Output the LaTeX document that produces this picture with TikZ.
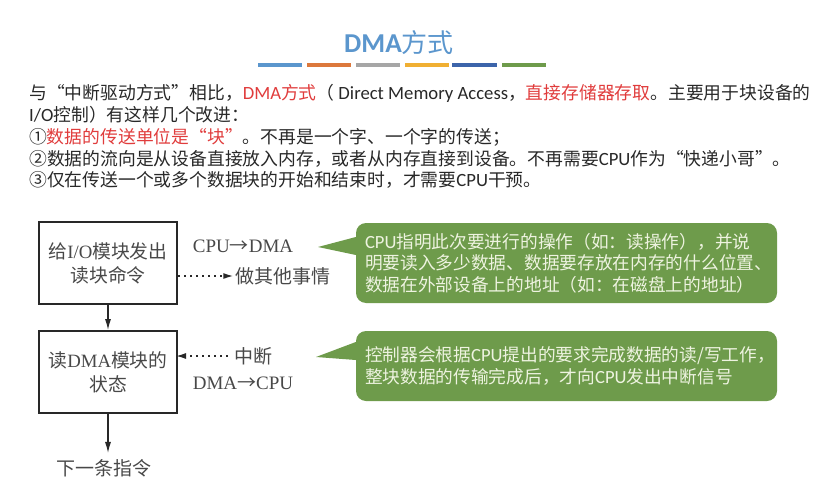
\documentclass[tikz,border=0pt]{standalone}
\usepackage{fontspec}
\usetikzlibrary{arrows.meta}
\setmainfont{Noto Sans CJK SC}
\newfontfamily\lat[Scale=1.05]{Carlito}
\newfontfamily\ser{Liberation Serif}
\newcommand{\en}[1]{{\lat #1}}
\definecolor{dmablue}{RGB}{91,150,205}
\definecolor{dmared}{RGB}{224,60,60}
\definecolor{dmagreen}{RGB}{110,155,75}
\definecolor{dmapale}{RGB}{238,243,224}
\definecolor{dmaorange}{RGB}{220,120,60}
\definecolor{dmagold}{RGB}{240,175,50}
\definecolor{dmanavy}{RGB}{60,100,170}
\definecolor{ink}{RGB}{40,40,40}
\begin{document}
\begin{tikzpicture}[x=1pt, y=-1pt,
    barmark/.style={line width=4pt},
    stepbox/.style={draw=ink, line width=2pt, minimum width=138pt, minimum height=82pt,
              inner sep=0pt, align=center, font=\fontsize{18.8}{24}\selectfont, text=ink!85},
    note/.style={font=\fontsize{19}{22}\selectfont, text=ink!85, inner sep=0pt},
    flow/.style={draw=ink, line width=1.2pt, -{Latex[length=11pt,width=6pt]}},
    dotflow/.style={draw=ink, line width=1.4pt, dash pattern=on 2pt off 4pt,
              -{Latex[length=10pt,width=6pt]}},
    bubble/.style={fill=dmagreen, rounded corners=10pt, minimum width=421pt, inner sep=0pt,
              text=dmapale, align=left, text width=403pt,
              font=\fontsize{17.7}{21.6}\selectfont}]
  \useasboundingbox (0,0) rectangle (826,492);
  % heading
  \node[text=dmablue, font=\fontsize{26}{30}\selectfont, inner sep=0pt] (title) at (399,43)
    {{\lat\bfseries DMA}方式};
  \draw[barmark, dmablue]   (258,65) -- (302,65);
  \draw[barmark, dmaorange] (307,65) -- (351,65);
  \draw[barmark, gray!70]   (356,65) -- (400,65);
  \draw[barmark, dmagold]   (405,65) -- (449,65);
  \draw[barmark, dmanavy]   (452,65) -- (497,65);
  \draw[barmark, dmagreen]  (502,65) -- (546,65);
  % paragraph
  \node[anchor=north west, inner sep=0pt, align=left, text=ink,
        font=\fontsize{17.8}{21.7}\selectfont] (body) at (29,84.5)
    {与“中断驱动方式”相比，{\color{dmared}\en{DMA}方式}（ \en{Direct Memory Access}，{\color{dmared}直接存储器存取}。主要用于块设备的\\
     \en{I/O}控制）有这样几个改进：\\
     ①{\color{dmared}数据的传送单位是“块”}。不再是一个字、一个字的传送；\\
     ②数据的流向是从设备直接放入内存，或者从内存直接到设备。不再需要\en{CPU}作为“快递小哥”。\\
     ③仅在传送一个或多个数据块的开始和结束时，才需要\en{CPU}干预。};
  % flow chart
  \node[stepbox] (cmd)  at (108,263) {给{\ser I/O}模块发出\\读块命令};
  \node[stepbox] (stat) at (108,372) {读{\ser DMA}模块的\\状态};
  \node[note] (next)  at (104,468) {下一条指令};
  \node[note] (cpu)   at (243,246) {{\ser CPU}→{\ser DMA}};
  \node[note] (other) at (283,276) {做其他事情};
  \node[note] (irq)   at (253,356) {中断};
  \node[note] (dma)   at (243,383) {{\ser DMA}→{\ser CPU}};
  \draw[flow] (cmd) -- (stat);
  \draw[flow] (stat) -- ([yshift=6pt]next.north -| stat);
  \draw[dotflow, shorten >=2pt] (cmd.east |- other.west) -- (other.west);
  \draw[dotflow, shorten <=6pt, shorten >=-2pt] (irq.west) -- (stat.east |- irq.west);
  % remarks
  \coordinate (tipA) at (318,247);
  \coordinate (tipB) at (316,357);
  \node[bubble, minimum height=80pt] (remA) at (566.5,263)
    {\en{CPU}指明此次要进行的操作（如：读操作），并说\\
     明要读入多少数据、数据要存放在内存的什么位置、\\
     数据在外部设备上的地址（如：在磁盘上的地址）};
  \node[bubble, minimum height=70pt] (remB) at (566.5,366)
    {控制器会根据\en{CPU}提出的要求完成数据的读/写工作，\\
     整块数据的传输完成后，才向\en{CPU}发出中断信号};
  \fill[dmagreen] (tipA) -- (remA.west |- 0,237) -- (remA.west |- 0,255) -- cycle;
  \fill[dmagreen] (tipB) -- (remB.west |- 0,342) -- (remB.west |- 0,360) -- cycle;
\end{tikzpicture}
\end{document}
